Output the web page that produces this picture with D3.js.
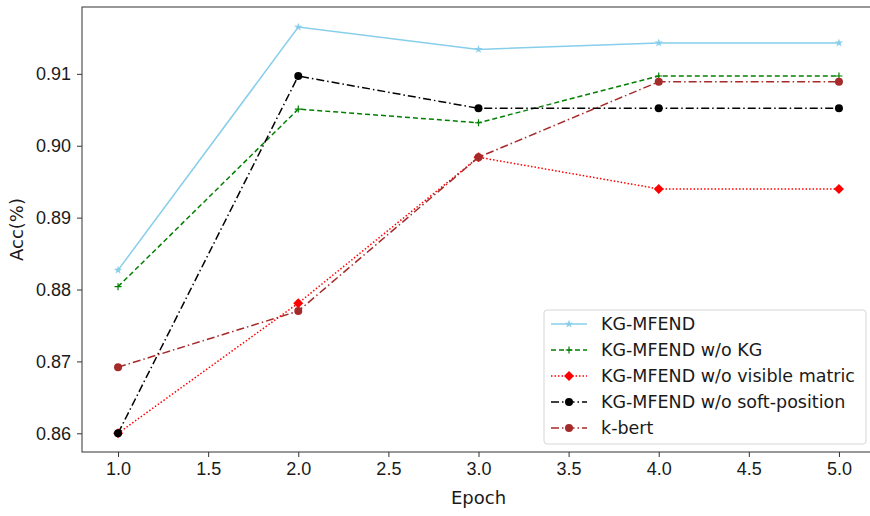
<!DOCTYPE html>
<html>
<head>
<meta charset="utf-8">
<script src="https://cdn.jsdelivr.net/npm/d3@7"></script>
<style>
  html, body { margin: 0; padding: 0; background: #fff; overflow: hidden; }
  svg { display: block; }
</style>
</head>
<body>
<div id="chart"></div>
<script>
var epochs = [1, 2, 3, 4, 5];
var kgMfend = [0.8827, 0.9165, 0.9134, 0.9143, 0.9143];
var noKg = [0.8804, 0.9051, 0.9032, 0.9097, 0.9097];
var noVisible = [0.8600, 0.8781, 0.8984, 0.8940, 0.8940];
var noSoftPos = [0.8600, 0.9097, 0.9052, 0.9052, 0.9052];
var kBert = [0.8692, 0.8770, 0.8984, 0.9089, 0.9089];
var xTicks = [1.0, 1.5, 2.0, 2.5, 3.0, 3.5, 4.0, 4.5, 5.0];
var yTicks = [0.86, 0.87, 0.88, 0.89, 0.90, 0.91];

var series = [
  { name: "KG-MFEND", values: kgMfend, color: "#87ceeb", dash: null, marker: "star" },
  { name: "KG-MFEND w/o KG", values: noKg, color: "#008000", dash: "5,3", marker: "plus" },
  { name: "KG-MFEND w/o visible matric", values: noVisible, color: "#ff0000", dash: "1.5,2", marker: "diamond" },
  { name: "KG-MFEND w/o soft-position", values: noSoftPos, color: "#000000", dash: "8,3,1.5,3", marker: "circle" },
  { name: "k-bert", values: kBert, color: "#a52a2a", dash: "8,3,1.5,3", marker: "circle" }
];

var W = 870, H = 516;
var margin = { left: 82, top: 7, right: 875, bottom: 452 };

var x = d3.scaleLinear().domain([0.8, 5.2]).range([margin.left, margin.right]);
var y = d3.scaleLinear().domain([0.8574, 0.9193]).range([margin.bottom, margin.top]);

var svg = d3.select("#chart").append("svg")
  .attr("width", W)
  .attr("height", H)
  .style("font-family", "DejaVu Sans, sans-serif");

// axes
var xAxis = svg.append("g")
  .attr("transform", "translate(0," + margin.bottom + ")")
  .call(d3.axisBottom(x).tickValues(xTicks).tickFormat(d3.format(".1f")).tickSizeOuter(0).tickSize(5).tickPadding(5));
var yAxis = svg.append("g")
  .attr("transform", "translate(" + margin.left + ",0)")
  .call(d3.axisLeft(y).tickValues(yTicks).tickFormat(d3.format(".2f")).tickSizeOuter(0).tickSize(5).tickPadding(6));

[xAxis, yAxis].forEach(function(a) {
  a.select(".domain").remove();
  a.selectAll("line").attr("stroke", "#333");
  a.selectAll("text").attr("fill", "#1a1a1a").style("font-size", "18px");
});

// frame
svg.append("rect")
  .attr("x", margin.left)
  .attr("y", margin.top)
  .attr("width", margin.right - margin.left)
  .attr("height", margin.bottom - margin.top)
  .attr("fill", "none")
  .attr("stroke", "#333")
  .attr("stroke-width", 1);

svg.append("text")
  .attr("x", x(3))
  .attr("y", 504)
  .attr("text-anchor", "middle")
  .attr("fill", "#1a1a1a")
  .style("font-size", "18px")
  .text("Epoch");

svg.append("text")
  .attr("transform", "translate(23," + (margin.top + margin.bottom) / 2 + ")rotate(-90)")
  .attr("text-anchor", "middle")
  .attr("fill", "#1a1a1a")
  .style("font-size", "18px")
  .text("Acc(%)");

function drawMarker(g, kind, color, cx, cy) {
  if (kind === "star") {
    g.append("path")
      .attr("d", d3.symbol().type(d3.symbolStar).size(22)())
      .attr("transform", "translate(" + cx + "," + cy + ")")
      .attr("fill", color);
  } else if (kind === "plus") {
    g.append("path")
      .attr("d", "M-3.5,0H3.5M0,-3.5V3.5")
      .attr("transform", "translate(" + cx + "," + cy + ")")
      .attr("stroke", color)
      .attr("stroke-width", 1.2)
      .attr("fill", "none");
  } else if (kind === "diamond") {
    g.append("path")
      .attr("d", "M0,-5L5,0L0,5L-5,0Z")
      .attr("transform", "translate(" + cx + "," + cy + ")")
      .attr("fill", color);
  } else {
    g.append("circle")
      .attr("cx", cx)
      .attr("cy", cy)
      .attr("r", 4)
      .attr("fill", color);
  }
}

var line = d3.line()
  .x(function(d, i) { return x(epochs[i]); })
  .y(function(d) { return y(d); });

series.forEach(function(s) {
  var g = svg.append("g");
  g.append("path")
    .datum(s.values)
    .attr("d", line)
    .attr("fill", "none")
    .attr("stroke", s.color)
    .attr("stroke-width", 1.5)
    .attr("stroke-dasharray", s.dash);
  s.values.forEach(function(v, i) {
    drawMarker(g, s.marker, s.color, x(epochs[i]), y(v));
  });
});

// legend
var lg = svg.append("g");
lg.append("rect")
  .attr("x", 544)
  .attr("y", 310)
  .attr("width", 322)
  .attr("height", 134)
  .attr("rx", 3)
  .attr("fill", "rgba(255,255,255,0.85)")
  .attr("stroke", "#d6d6d6");

series.forEach(function(s, i) {
  var ly = 324 + i * 26;
  lg.append("line")
    .attr("x1", 551)
    .attr("x2", 587)
    .attr("y1", ly)
    .attr("y2", ly)
    .attr("stroke", s.color)
    .attr("stroke-width", 1.5)
    .attr("stroke-dasharray", s.dash);
  drawMarker(lg, s.marker, s.color, 569, ly);
  lg.append("text")
    .attr("x", 601)
    .attr("y", ly)
    .attr("dy", "0.35em")
    .attr("fill", "#1a1a1a")
    .style("font-size", "17.5px")
    .text(s.name);
});
</script>
</body>
</html>
